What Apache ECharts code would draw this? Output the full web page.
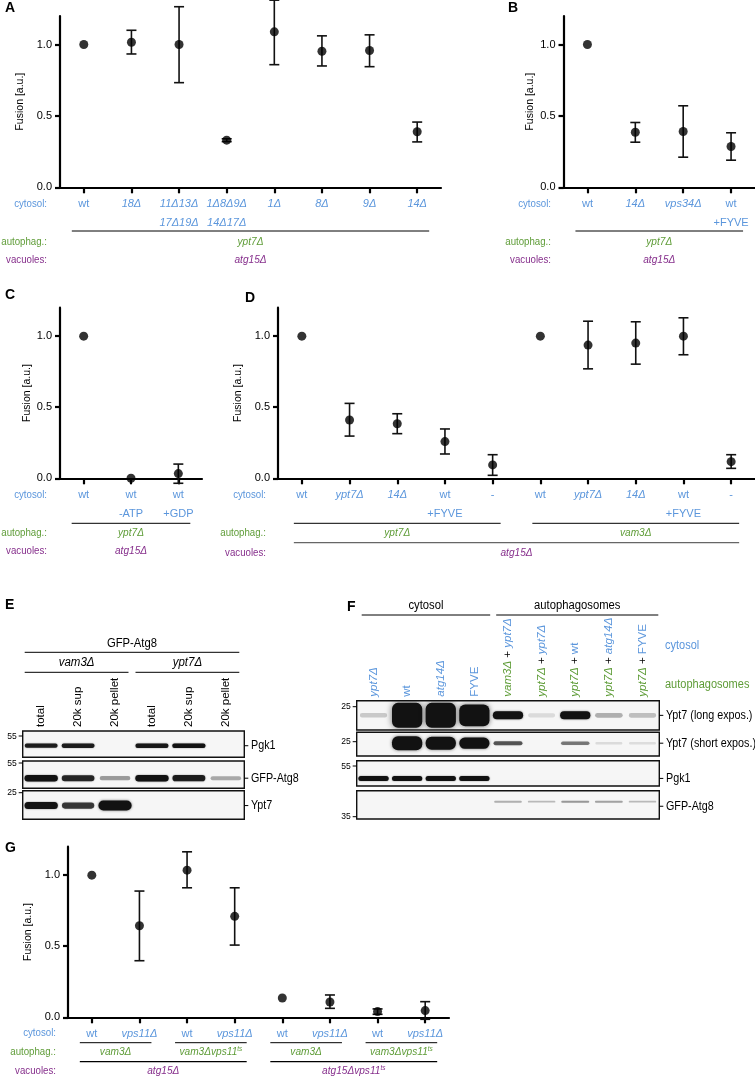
<!DOCTYPE html>
<html><head><meta charset="utf-8">
<script src="https://cdn.jsdelivr.net/npm/echarts@6/dist/echarts.min.js"></script>
<style>html,body{margin:0;padding:0;background:#fff}#c{width:755px;height:1078px}</style>
</head><body><div id="c"></div>
<script>
const FONT = "'Liberation Sans Narrow','Arial Narrow','Liberation Sans',Arial,sans-serif";
const BLUE = '#5b96dc', GREEN = '#5e9c37', PURPLE = '#862f8c';

// ---------- Panel A ----------
const catA = ['wt','18Δ','11Δ13Δ\n17Δ19Δ','1Δ8Δ9Δ\n14Δ17Δ','1Δ','8Δ','9Δ','14Δ'];
const meanA = [1.0,1.016,1.0,0.330,1.089,0.953,0.958,0.389];
const lowA  = [null,0.934,0.733,0.320,0.859,0.850,0.845,0.318];
const highA = [null,1.100,1.265,0.340,1.311,1.061,1.068,0.457];
const autoA = [[0,7,'ypt7Δ']];
const vacA  = [[0,7,'atg15Δ']];

// ---------- Panel B ----------
const catB = ['wt','14Δ','vps34Δ','wt\n+FYVE'];
const meanB = [1.0,0.386,0.391,0.286];
const lowB  = [null,0.316,0.211,0.190];
const highB = [null,0.454,0.571,0.382];
const autoB = [[0,3,'ypt7Δ']];
const vacB  = [[0,3,'atg15Δ']];

// ---------- Panel C ----------
const catC = ['wt','wt\n-ATP','wt\n+GDP'];
const meanC = [1.0,0.0,0.033];
const lowC  = [null,null,-0.035];
const highC = [null,null,0.100];
const autoC = [[0,2,'ypt7Δ']];
const vacC  = [[0,2,'atg15Δ']];

// ---------- Panel D ----------
const catD = ['wt','ypt7Δ','14Δ','wt\n+FYVE','-','wt','ypt7Δ','14Δ','wt\n+FYVE','-'];
const meanD = [1.0,0.410,0.384,0.258,0.094,1.0,0.937,0.951,1.0,0.117];
const lowD  = [null,0.297,0.314,0.171,0.021,null,0.770,0.803,0.869,0.070];
const highD = [null,0.527,0.454,0.347,0.166,null,1.105,1.101,1.129,0.166];
const autoD = [[0,4,'ypt7Δ'],[5,9,'vam3Δ']];
const vacD  = [[0,9,'atg15Δ']];

// ---------- Panel G ----------
const catG = ['wt','vps11Δ','wt','vps11Δ','wt','vps11Δ','wt','vps11Δ'];
const meanG = [1.0,0.644,1.035,0.710,0.136,0.108,0.040,0.047];
const lowG  = [null,0.398,0.911,0.508,null,0.063,0.021,-0.014];
const highG = [null,0.888,1.164,0.911,null,0.157,0.059,0.110];
const autoG = [[0,1,'vam3Δ'],[2,3,'vam3Δvps11^ts'],[4,5,'vam3Δ'],[6,7,'vam3Δvps11^ts']];
const vacG  = [[0,3,'atg15Δ'],[4,7,'atg15Δvps11^ts']];

// ---------- Blots (band signal per lane; >1 = saturated) ----------
const lanesE = ['total','20k sup','20k pellet','total','20k sup','20k pellet'];
const pgk1E = [0.9,0.92,0,0.95,1.0,0];
const atg8E = [1.0,0.85,0.3,1.0,0.9,0.25];
const ypt7E = [1.0,0.75,1.3,0,0,0];
const headE1 = [[0,5,'GFP-Atg8']];
const headE2 = [[0,2,'vam3Δ'],[3,5,'ypt7Δ']];

const lanesF = ['ypt7Δ','wt','atg14Δ','FYVE','vam3Δ + ypt7Δ','ypt7Δ + ypt7Δ','ypt7Δ + wt','ypt7Δ + atg14Δ','ypt7Δ + FYVE'];
const ypt7LongF  = [0.12,3,3,2.6,1.0,0.04,1.0,0.22,0.16];
const ypt7ShortF = [0,3,2.8,2.4,0.6,0,0.45,0.04,0.03];
const pgk1F = [1,1,1,1,0,0,0,0,0];
const atg8F = [0,0,0,0,0.22,0.18,0.32,0.28,0.18];
const headF = [[0,3,'cytosol'],[4,8,'autophagosomes']];

// ---------- layout ----------
const plotPanels = [
  {layout:{left:60,top:16,width:381,height:171.3}, cat:catA, mean:meanA, low:lowA, high:highA, auto:autoA, vac:vacA, nameGap:27,
   lab:{x:47, cy:16.5, l1:43.7, t1:54.7, l2:null, t2:72.7, ext:12}},
  {layout:{left:563.5,top:16,width:191.5,height:171.3}, cat:catB, mean:meanB, low:lowB, high:highB, auto:autoB, vac:vacB, nameGap:28,
   lab:{x:551, cy:16.5, l1:43.7, t1:54.7, l2:null, t2:72.7, ext:12}},
  {layout:{left:60,top:307.7,width:142,height:170.6}, cat:catC, mean:meanC, low:lowC, high:highC, auto:autoC, vac:vacC, nameGap:27,
   lab:{x:47, cy:17, l1:45, t1:55, l2:null, t2:72.4, ext:12}},
  {layout:{left:278,top:307.7,width:477,height:170.6}, cat:catD, mean:meanD, low:lowD, high:highD, auto:autoD, vac:vacD, nameGap:30,
   lab:{x:266, cy:17, l1:45, t1:55, l2:64.4, l2c:'#666', t2:74.4, ext:8}},
  {layout:{left:68,top:846.7,width:381,height:170.6}, cat:catG, mean:meanG, low:lowG, high:highG, auto:autoG, vac:vacG, nameGap:29,
   lab:{x:56, cy:16, l1:25.4, t1:35, l2:44.4, t2:53.7, ext:12}}
];

const blots = [
  {layout:{left:22.7,top:731,width:221.6,height:26.3}, lanes:lanesE, sig:pgk1E, at:0.44, H:4.5, grow:1, lanesShown:true, label:'Pgk1', lx:247, markers:[['55',5]]},
  {layout:{left:22.7,top:761,width:221.6,height:27.3}, lanes:lanesE, sig:atg8E, at:0.37, H:6.5, grow:1, label:'GFP-Atg8', lx:247, markers:[['55',2]]},
  {layout:{left:22.7,top:790.7,width:221.6,height:28.6}, lanes:lanesE, sig:ypt7E, at:0.48, H:7, grow:1.4, label:'Ypt7', lx:247, markers:[['25',2]]},
  {layout:{left:356.7,top:700.7,width:302.6,height:29.3}, lanes:lanesF, sig:ypt7LongF, at:0.50, H:8, grow:1.06, lanesShown:true, label:'Ypt7 (long expos.)', lx:662, markers:[['25',6]]},
  {layout:{left:356.7,top:732.3,width:302.6,height:23.7}, lanes:lanesF, sig:ypt7ShortF, at:0.54, H:5, grow:0.9, label:'Ypt7 (short expos.)', lx:662, markers:[['25',9.4]]},
  {layout:{left:356.7,top:760.7,width:302.6,height:25.3}, lanes:lanesF, sig:pgk1F, at:0.30, H:5, grow:1, label:'Pgk1', lx:662, markers:[['55',5.3]]},
  {layout:{left:356.7,top:790.7,width:302.6,height:28.3}, lanes:lanesF, sig:atg8F, at:0.61, H:3, grow:1, label:'GFP-Atg8', lx:662, labAt:0.45, markers:[['35',26]]}
];

const letters = [['A',5,8],['B',508,8],['C',5,295],['D',245,298],['E',5,605],['F',347,607],['G',5,848]];

// ---------- helpers ----------
const catRich = {
  n:{color:BLUE,fontSize:11,lineHeight:19,fontFamily:FONT},
  i:{color:BLUE,fontSize:11,lineHeight:19,fontStyle:'italic',fontFamily:FONT}
};
function catFmt(v){
  return v.split('\n').map(l => (l.indexOf('Δ')>=0 ? '{i|' : '{n|') + l + '}').join('\n');
}
const FS_F = 11.5;
const laneRichF = {
  gi:{color:GREEN,fontStyle:'italic',fontSize:FS_F,fontFamily:FONT},
  gn:{color:GREEN,fontSize:FS_F,fontFamily:FONT},
  bi:{color:BLUE,fontStyle:'italic',fontSize:FS_F,fontFamily:FONT},
  bn:{color:BLUE,fontSize:FS_F,fontFamily:FONT},
  kn:{color:'#000',fontSize:FS_F,fontFamily:FONT}
};
function laneFmtF(v){
  const part = (s,c) => '{' + c + (s.indexOf('Δ')>=0?'i':'n') + '|' + s + '}';
  if (v.indexOf(' + ')>=0){ const p = v.split(' + '); return part(p[0],'g') + '{kn| + }' + part(p[1],'b'); }
  return part(v,'b');
}
function errRender(params, api){
  const x = api.value(0), lo = api.value(1), hi = api.value(2);
  const a = api.coord([x, lo]), b = api.coord([x, hi]);
  const cw = 5, st = {stroke:'#111', lineWidth:1.6};
  return {type:'group', children:[
    {type:'line', shape:{x1:a[0],y1:a[1],x2:b[0],y2:b[1]}, style:st},
    {type:'line', shape:{x1:a[0]-cw,y1:a[1],x2:a[0]+cw,y2:a[1]}, style:st},
    {type:'line', shape:{x1:b[0]-cw,y1:b[1],x2:b[0]+cw,y2:b[1]}, style:st}
  ]};
}
function bandRender(cfg){
  return function(params, api){
    const lane = api.value(0), s = api.value(1);
    if (!(s > 0)) return null;
    const c = api.coord([lane, cfg.at]);
    const bw = api.size([1,0])[0];
    const sat = Math.min(s,1);
    const h = cfg.H * (s >= 1 ? 1 + (s-1)*cfg.grow : 0.5 + 0.5*s);
    const w = bw * (s >= 1 ? 0.9 : 0.8 + 0.1*s);
    return {type:'rect', shape:{x:c[0]-w/2, y:c[1]-h/2, width:w, height:h, r:Math.min(h/2,6)},
      style:{fill:'rgba(18,18,18,'+(0.08+0.92*sat).toFixed(3)+')', shadowBlur:Math.max(1.5,h*0.25), shadowColor:'rgba(18,18,18,'+(0.6*sat).toFixed(3)+')'}};
  };
}

// ---------- option ----------
const option = {animation:false, backgroundColor:'#fff', textStyle:{fontFamily:FONT}, grid:[], xAxis:[], yAxis:[], series:[]};

plotPanels.forEach((p,i)=>{
  option.grid.push(Object.assign({show:false}, p.layout));
  option.xAxis.push({type:'category', gridIndex:i, data:p.cat, boundaryGap:true,
    axisLine:{show:true, lineStyle:{color:'#000', width:2.2}},
    axisTick:{show:true, alignWithLabel:true, length:6, lineStyle:{color:'#000', width:2.2}},
    axisLabel:{interval:0, margin:7, formatter:catFmt, rich:catRich},
    splitLine:{show:false}});
  option.yAxis.push({type:'value', gridIndex:i, min:0, max:1.2, interval:0.5,
    name:'Fusion [a.u.]', nameLocation:'middle', nameGap:p.nameGap,
    nameTextStyle:{fontSize:10.5, color:'#000', fontFamily:FONT},
    axisLine:{show:true, lineStyle:{color:'#000', width:2.2}},
    axisTick:{show:true, length:5, lineStyle:{color:'#000', width:2.2}, customValues:[0,0.5,1]},
    axisLabel:{customValues:[0,0.5,1], formatter:v=>v.toFixed(1), fontSize:11, color:'#000', margin:8, fontFamily:FONT},
    splitLine:{show:false}});
  option.series.push({type:'custom', xAxisIndex:i, yAxisIndex:i, silent:true, z:2,
    data:p.cat.map((c,k)=>[k, p.low[k], p.high[k]]).filter(d=>d[1]!=null), renderItem:errRender});
  option.series.push({type:'scatter', xAxisIndex:i, yAxisIndex:i, silent:true, z:3,
    data:p.mean.map((v,k)=>[k,v]), symbolSize:9, itemStyle:{color:'#000'}});
});

blots.forEach((b,j)=>{
  const i = plotPanels.length + j;
  option.grid.push(Object.assign({show:true, borderColor:'#111', borderWidth:1.4, backgroundColor:'#f6f6f6'}, b.layout));
  const isF = b.lanes === lanesF;
  option.xAxis.push({type:'category', gridIndex:i, data:b.lanes, boundaryGap:true, position:'top',
    show:!!b.lanesShown, axisLine:{show:false}, axisTick:{show:false}, splitLine:{show:false},
    axisLabel:{show:!!b.lanesShown, interval:0, rotate:90, margin:4, fontSize:isF?FS_F:11.5, color:'#000', fontFamily:FONT,
      formatter: isF ? laneFmtF : (v=>v), rich: isF ? laneRichF : undefined}});
  option.yAxis.push({type:'value', gridIndex:i, min:0, max:1, show:false});
  option.series.push({type:'custom', xAxisIndex:i, yAxisIndex:i, silent:true, clip:true,
    data:b.sig.map((s,k)=>[k,s]), renderItem:bandRender(b)});
});

const chart = echarts.init(document.getElementById('c'));
chart.setOption(option);

// ---------- annotations ----------
function px(ax,k){ return chart.convertToPixel({xAxisIndex:ax}, k); }
function py(ax,v){ return chart.convertToPixel({yAxisIndex:ax}, v); }
function txt(x,y,text,o,sx){
  const e = {type:'text', x:x, y:y, silent:true, z:10,
    style:Object.assign({text:text, fill:'#000', fontSize:11, fontFamily:FONT, align:'center', verticalAlign:'middle'}, o||{})};
  if (sx) e.scaleX = sx;
  return e;
}
function ln(x1,y1,x2,y2,c,w){
  return {type:'line', silent:true, z:10, shape:{x1:x1,y1:y1,x2:x2,y2:y2}, style:{stroke:c||'#000', lineWidth:w||1}};
}
function italTxt(x,y,t,color,size){
  size = size||11;
  const parts = t.split('^');
  let s = '{i|' + parts[0] + '}';
  if (parts[1]) s += '{s|' + parts[1] + '}';
  return txt(x,y,s,{rich:{
    i:{fill:color,color:color,fontStyle:'italic',fontSize:size,fontFamily:FONT},
    s:{fill:color,color:color,fontStyle:'italic',fontSize:7,fontFamily:FONT,verticalAlign:'top',padding:[0,0,6,0]}
  }}, 0.92);
}

const G = [];
letters.forEach(l=>G.push(txt(l[1],l[2],l[0],{fontSize:14,fontWeight:'bold',fontFamily:'Liberation Sans, Arial, sans-serif',align:'left'})));

plotPanels.forEach((p,i)=>{
  const y0 = py(i,0), L = p.lab;
  G.push(txt(L.x, y0+L.cy, 'cytosol:', {fill:BLUE, align:'right'}, 0.88));
  G.push(txt(L.x, y0+L.t1, 'autophag.:', {fill:GREEN, align:'right'}, 0.88));
  G.push(txt(L.x, y0+L.t2, 'vacuoles:', {fill:PURPLE, align:'right'}, 0.88));
  p.auto.forEach(a=>{
    const x1 = px(i,a[0])-L.ext, x2 = px(i,a[1])+L.ext;
    G.push(ln(x1, y0+L.l1, x2, y0+L.l1, '#000', 1));
    G.push(italTxt((x1+x2)/2, y0+L.t1, a[2], GREEN));
  });
  p.vac.forEach(a=>{
    const x1 = px(i,a[0])-L.ext, x2 = px(i,a[1])+L.ext;
    if (L.l2 != null) G.push(ln(x1, y0+L.l2, x2, y0+L.l2, L.l2c||'#000', 1.2));
    G.push(italTxt((x1+x2)/2, y0+L.t2, a[2], PURPLE));
  });
});

blots.forEach((b,j)=>{
  const Lo = b.layout;
  const right = Lo.left + Lo.width;
  const ly = Lo.top + Lo.height*(1-(b.labAt!=null?b.labAt:b.at));
  G.push(ln(right, ly, right+4, ly, '#000', 1));
  G.push(txt(b.lx+4, ly, b.label, {align:'left', fontSize:12.5}, 0.86));
  b.markers.forEach(m=>{
    const my = Lo.top + m[1];
    G.push(ln(Lo.left-4, my, Lo.left, my, '#000', 1));
    G.push(txt(Lo.left-6, my, m[0], {align:'right', fontSize:9.5}, 0.9));
  });
});

// E / F headers
(function(){
  const i = plotPanels.length;
  const half = (px(i,1)-px(i,0))/2;
  headE1.forEach(h=>{
    const x1 = px(i,h[0])-half+2, x2 = px(i,h[1])+half-5;
    G.push(txt((x1+x2)/2, 643.3, h[2], {fontSize:12.5}, 0.9));
    G.push(ln(x1, 652.3, x2, 652.3, '#000', 1));
  });
  headE2.forEach(h=>{
    const x1 = px(i,h[0])-half+2, x2 = px(i,h[1])+half-5;
    G.push(italTxt((x1+x2)/2, 662.7, h[2], '#000', 12.5));
    G.push(ln(x1, 672.3, x2, 672.3, '#000', 1));
  });
  const f = plotPanels.length + 3;
  const hf = (px(f,1)-px(f,0))/2;
  headF.forEach(h=>{
    const x1 = px(f,h[0])-hf+5, x2 = px(f,h[1])+hf-1;
    G.push(txt((x1+x2)/2, 606, h[2], {fontSize:12.5}, 0.9));
    G.push(ln(x1, 615, x2, 615, '#000', 1));
  });
  G.push(txt(665, 645.7, 'cytosol', {align:'left', fill:BLUE, fontSize:12.5}, 0.88));
  G.push(txt(665, 685, 'autophagosomes', {align:'left', fill:GREEN, fontSize:12.5}, 0.88));
})();

chart.setOption({graphic:G});
</script></body></html>
